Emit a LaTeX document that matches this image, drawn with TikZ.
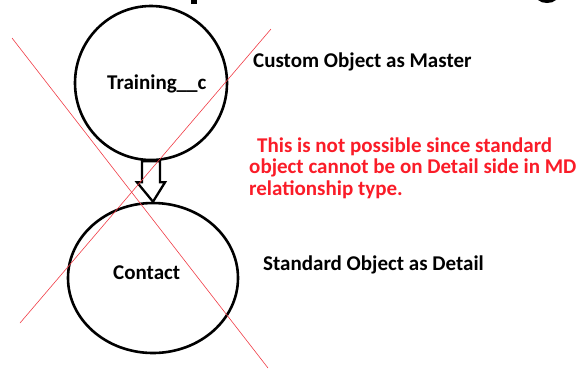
\documentclass[tikz,border=0pt]{standalone}
\usepackage{fontspec}
\setmainfont{Carlito}
\usetikzlibrary{shapes.geometric}
\definecolor{warnred}{RGB}{250,28,40}
\definecolor{crossred}{RGB}{240,60,70}
\begin{document}
\begin{tikzpicture}[x=1pt,y=-1pt,
  obj/.style={ellipse,draw=black,line width=2.6pt,inner sep=0pt},
  lbl/.style={anchor=base west,inner sep=0pt,font=\fontsize{21}{23}\selectfont\bfseries},
  warn/.style={lbl,text=warnred,font=\fontsize{21}{23}\selectfont\bfseries},
  cross/.style={draw=crossred,line width=0.6pt},
  blockarrow/.style={draw=black,fill=white,line width=2.3pt,line join=miter}]
\useasboundingbox (0,0) rectangle (577,368);

% remnants of the heading above the figure
\fill (190.5,0) rectangle (196.5,3.5);
\fill (538,0) .. controls (542,4) and (552,4) .. (556,0) -- cycle;

% master and detail objects
\node[obj,minimum width=152pt,minimum height=154pt] (master) at (151,83) {};
\node[obj,minimum width=170pt,minimum height=150pt] (detail) at (153,278) {};

% labels inside the circles
\node[lbl] (mastertxt) at (107,89) {Training\_\_c};
\node[lbl] (detailtxt) at (113,279) {Contact};

% block arrow from master down to detail
\coordinate (as) at (master.south);
\coordinate (ae) at (detail.north);
\draw[blockarrow] ([xshift=-9pt]as) -- ([xshift=-9pt,yshift=-21pt]as)
  -- ([xshift=-14pt,yshift=-21pt]as) -- (ae) -- ([xshift=14pt,yshift=-21pt]as)
  -- ([xshift=9pt,yshift=-21pt]as) -- ([xshift=9pt]as) -- cycle;

% side captions
\node[lbl] (mastercap) at (253,67) {Custom Object as Master};
\node[lbl] (detailcap) at (263,270) {Standard Object as Detail};

% explanation in red
\node[warn] (w1) at (257,152) {This is not possible since standard};
\node[warn] (w2) at (249,173.5) {object cannot be on Detail side in MD};
\node[warn] (w3) at (249,195) {relationship type.};

% crossing-out lines
\coordinate (c1a) at (12,38);
\coordinate (c1b) at (268,368);
\coordinate (c2a) at (271,29);
\coordinate (c2b) at (20,323);
\draw[cross] (c1a) -- (c1b);
\draw[cross] (c2a) -- (c2b);
\end{tikzpicture}
\end{document}
